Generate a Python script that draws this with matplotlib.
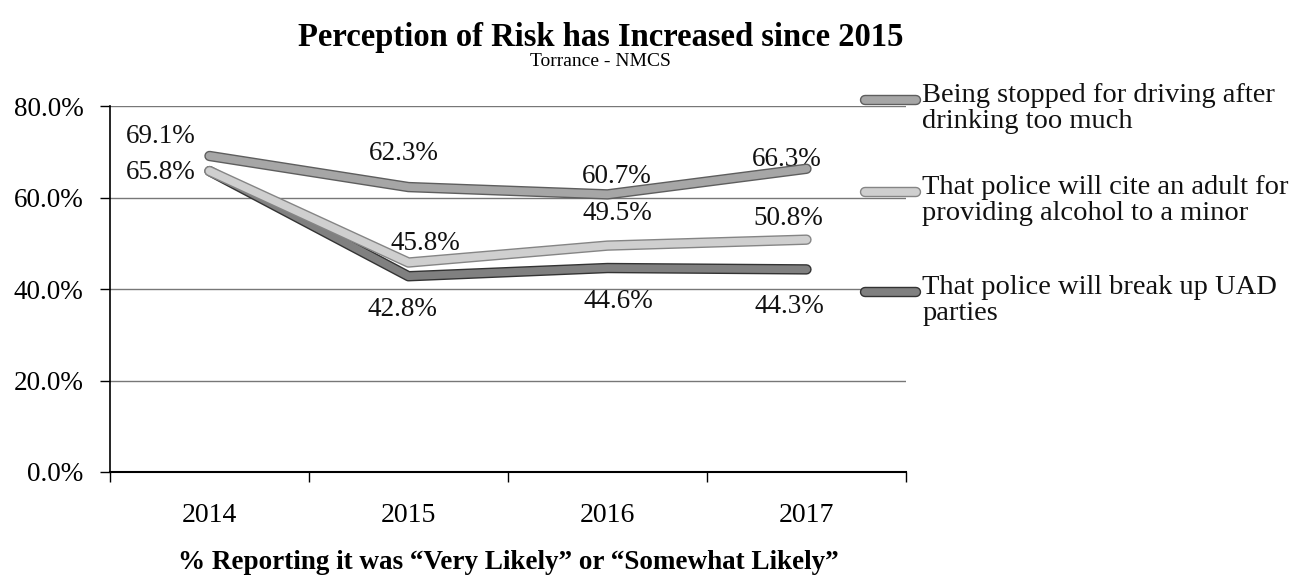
import numpy as np
import matplotlib
matplotlib.use('Agg')
from matplotlib import pyplot as plt
from matplotlib import patheffects as pe
from matplotlib.lines import Line2D

years = ['2014', '2015', '2016', '2017']
stopped = [69.1, 62.3, 60.7, 66.3]
cite_adult = [65.8, 45.8, 49.5, 50.8]
break_up = [65.8, 42.8, 44.6, 44.3]
series_names = ['Being stopped for driving after\ndrinking too much',
                'That police will cite an adult for\nproviding alcohol to a minor',
                'That police will break up UAD\nparties']

plt.rcParams['font.family'] = ['Liberation Serif', 'DejaVu Serif']

fig = plt.figure(figsize=(12.97, 5.78), dpi=100)
ax = fig.add_axes([0.0848, 0.1834, 0.6137, 0.633])

x = np.arange(len(years))
fills = ['#a6a6a6', '#cfcfcf', '#808080']
edges = ['#5e5e5e', '#858585', '#333333']
# label offsets in points (dx, dy)
offsets = [
    [(-35, 14), (-3, 24), (7, 13), (-14, 7)],
    [None, (12, 14), (7, 23), (-13, 15)],
    [(-35, -1), (-4, -24), (8, -24), (-12, -27)],
]
data = [stopped, cite_adult, break_up]

for i, vals in enumerate(data):
    ax.plot(x, vals, color=fills[i], lw=5.5, solid_capstyle='round',
            solid_joinstyle='round', zorder=3 + (2 - i) * 0.1,
            path_effects=[pe.Stroke(linewidth=7.5, foreground=edges[i]), pe.Normal()])
    for j, v in enumerate(vals):
        if offsets[i][j] is None:
            continue
        ax.annotate('%.1f%%' % v, (x[j], v), xytext=offsets[i][j], textcoords='offset points',
                    ha='center', va='center', fontsize=19.5, color='#111111')

ax.set_xlim(-0.5, 3.5)
ax.set_ylim(0, 80)
ax.set_yticks([0, 20, 40, 60, 80])
ax.set_yticklabels(['%.1f%%' % t for t in [0, 20, 40, 60, 80]], fontsize=19.5)
ax.set_xticks(x)
ax.set_xticklabels(years, fontsize=20)
ax.set_xticks(np.arange(-0.5, 4, 1), minor=True)
ax.tick_params(axis='x', which='major', length=0, pad=22)
ax.tick_params(axis='x', which='minor', length=7, direction='out', width=1)
ax.tick_params(axis='y', length=7, direction='out', width=1, pad=12)
ax.grid(axis='y', color='#777777', lw=1)
ax.set_axisbelow(True)
for s in ['top', 'right']:
    ax.spines[s].set_visible(False)
ax.spines['left'].set_linewidth(1.2)
ax.spines['bottom'].set_linewidth(1.5)

ax.set_xlabel('% Reporting it was \u201cVery Likely\u201d or \u201cSomewhat Likely\u201d',
              fontsize=19.5, fontweight='bold', labelpad=16)

fig.text(0.463, 0.935, 'Perception of Risk has Increased since 2015', ha='center', va='center',
         fontsize=23.5, fontweight='bold')
fig.text(0.463, 0.893, 'Torrance - NMCS', ha='center', va='center', fontsize=14)

# legend drawn by hand so the key sits on the first text line
leg_y = [0.827, 0.668, 0.495]
for i, name in enumerate(series_names):
    ln = Line2D([0.667, 0.706], [leg_y[i], leg_y[i]], transform=fig.transFigure,
                color=fills[i], lw=5.5, solid_capstyle='round',
                path_effects=[pe.Stroke(linewidth=7.5, foreground=edges[i]), pe.Normal()])
    fig.add_artist(ln)
    fig.text(0.711, leg_y[i] + 0.03, name, ha='left', va='top', fontsize=20.5,
             linespacing=1.05, color='#111111')

fig.savefig('out.png', dpi=100)
